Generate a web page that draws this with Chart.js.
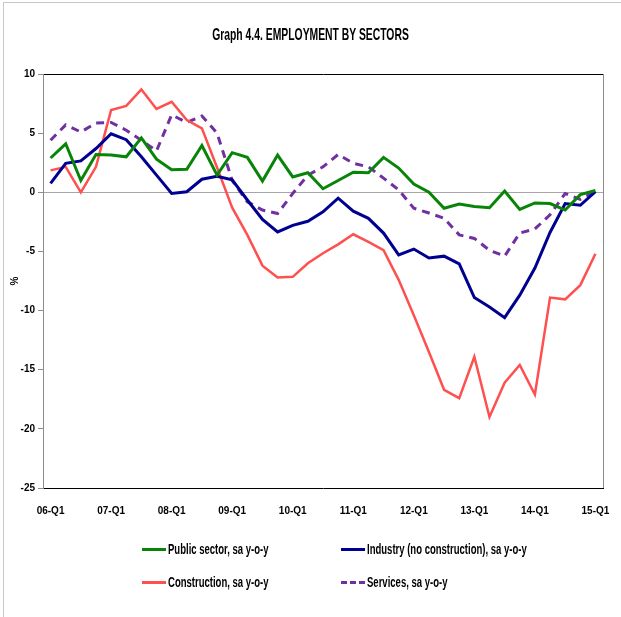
<!DOCTYPE html>
<html>
<head>
<meta charset="utf-8">
<script src="https://cdn.jsdelivr.net/npm/chart.js@4"></script>
<style>
  body { margin: 0; background: #fff; }
  #wrap { position: relative; width: 621px; height: 617px; font-family: 'Liberation Sans', Arial, sans-serif; }
  #wrap:before { content: ''; position: absolute; left: 3px; top: 2px; right: 0; bottom: 0; border-left: 1px solid #c8c8c8; border-top: 1px solid #c8c8c8; pointer-events: none; }
  #title { position: absolute; top: 25px; left: 0; width: 621px; text-align: center; font-weight: bold; font-size: 17px; color: #000; transform: scaleX(0.61); }
  .leg { position: absolute; font-weight: bold; font-size: 14px; color: #000; line-height: 16px; white-space: nowrap; }
  .leg .txt { display: inline-block; transform: scaleX(0.68); transform-origin: left center; }
  .leg span.mark { position: absolute; left: -26px; top: 7px; width: 24px; height: 0; }
</style>
</head>
<body>
<div id="wrap">
  <canvas id="chart" width="621" height="617"></canvas>
  <div id="title">Graph 4.4. EMPLOYMENT BY SECTORS</div>
  <div id="legend"></div>
</div>
<script>
const quarters = [
  '06-Q1','06-Q2','06-Q3','06-Q4','07-Q1','07-Q2','07-Q3','07-Q4',
  '08-Q1','08-Q2','08-Q3','08-Q4','09-Q1','09-Q2','09-Q3','09-Q4',
  '10-Q1','10-Q2','10-Q3','10-Q4','11-Q1','11-Q2','11-Q3','11-Q4',
  '12-Q1','12-Q2','12-Q3','12-Q4','13-Q1','13-Q2','13-Q3','13-Q4',
  '14-Q1','14-Q2','14-Q3','14-Q4','15-Q1'
];

const publicSector = [2.9, 4.1, 1.0, 3.2, 3.15, 3.0, 4.6, 2.8, 1.9, 1.95, 3.95, 1.45, 3.35, 2.95, 0.95, 3.15,
  1.3, 1.65, 0.3, 1.0, 1.7, 1.65, 2.95, 2.05, 0.7, 0.0, -1.35, -1.0, -1.2, -1.3, 0.1, -1.45,
  -0.9, -0.95, -1.5, -0.2, 0.15];
const industry = [0.75, 2.45, 2.65, 3.7, 4.95, 4.45, 3.0, 1.45, -0.1, 0.05, 1.1, 1.35, 1.05, -0.65, -2.3, -3.35,
  -2.8, -2.45, -1.65, -0.5, -1.6, -2.2, -3.45, -5.3, -4.8, -5.55, -5.4, -6.05, -8.9, -9.7, -10.6, -8.7,
  -6.4, -3.4, -0.95, -1.1, 0.05];
const construction = [1.85, 2.15, 0.0, 2.15, 6.95, 7.3, 8.7, 7.05, 7.65, 6.1, 5.4, 2.1, -1.3, -3.6, -6.2, -7.2,
  -7.15, -6.0, -5.15, -4.4, -3.55, -4.2, -4.9, -7.4, -10.4, -13.5, -16.7, -17.4, -13.9, -19.0, -16.1, -14.6,
  -17.1, -8.9, -9.05, -7.85, -5.2];
const services = [4.4, 5.7, 5.1, 5.85, 5.9, 5.25, 4.4, 3.5, 6.55, 5.9, 6.45, 5.0, 1.0, -0.8, -1.5, -1.8,
  -0.1, 1.45, 2.15, 3.2, 2.45, 2.15, 1.2, 0.2, -1.35, -1.75, -2.2, -3.6, -3.9, -4.9, -5.4, -3.45,
  -3.1, -1.9, -0.1, -0.6, 0.1];

const series = [
  { label: 'Public sector, sa y-o-y', data: publicSector, color: '#088408', width: 3, dash: [], lx: 168, ly: 541 },
  { label: 'Industry (no construction), sa y-o-y', data: industry, color: '#000090', width: 3, dash: [], lx: 367, ly: 541 },
  { label: 'Construction, sa y-o-y', data: construction, color: '#ff5050', width: 2.5, dash: [], lx: 168, ly: 574 },
  { label: 'Services, sa y-o-y', data: services, color: '#7030a0', width: 3, dash: [8, 6], lx: 367, ly: 574 }
];

// legend laid out like the original 2x2 grid
document.getElementById('legend').innerHTML = series.map(s =>
  `<div class="leg" style="left:${s.lx}px;top:${s.ly}px"><span class="mark" style="border-top:3px ${s.dash.length ? 'dashed' : 'solid'} ${s.color}"></span><span class="txt">${s.label}</span></div>`
).join('');

const frame = {
  id: 'frame',
  afterDraw(chart) {
    const { ctx, chartArea: a } = chart;
    ctx.save();
    ctx.strokeStyle = '#8c8c8c';
    ctx.lineWidth = 1;
    ctx.beginPath();
    ctx.moveTo(a.right + 0.5, a.top);
    ctx.lineTo(a.right + 0.5, a.bottom);
    ctx.stroke();
    ctx.restore();
  }
};

const tickFont = { family: "'Liberation Sans', Arial, sans-serif", size: 10, weight: 'bold' };

new Chart(document.getElementById('chart'), {
  type: 'line',
  data: {
    labels: quarters,
    datasets: series.map(s => ({
      label: s.label, data: s.data, borderColor: s.color, backgroundColor: s.color,
      borderWidth: s.width, borderDash: s.dash, pointRadius: 0, tension: 0, fill: false
    }))
  },
  options: {
    responsive: false,
    animation: false,
    layout: { padding: { left: 3, right: 18, top: 74, bottom: 99 } },
    plugins: { legend: { display: false }, tooltip: { enabled: false } },
    scales: {
      x: {
        offset: true,
        grid: { display: false },
        border: { color: '#000', width: 1 },
        ticks: {
          autoSkip: false, maxRotation: 0, padding: 9, color: '#000', font: tickFont,
          callback: (v, i) => i % 4 === 0 ? quarters[i] : ''
        },
        afterFit: s => { s.height = 30; }
      },
      y: {
        min: -25, max: 10,
        title: { display: true, text: '%', color: '#000', font: tickFont, padding: { top: 6, bottom: 0 } },
        grid: {
          color: c => c.tick.value === 0 ? '#a6a6a6' : (c.tick.value === 10 ? '#000' : 'rgba(0,0,0,0)'),
          tickColor: '#8c8c8c', tickLength: 5, lineWidth: 1
        },
        border: { color: '#8c8c8c' },
        ticks: { stepSize: 5, padding: 3, color: '#000', font: tickFont },
        afterFit: s => { s.width = 40; }
      }
    }
  },
  plugins: [frame]
});
</script>
</body>
</html>
